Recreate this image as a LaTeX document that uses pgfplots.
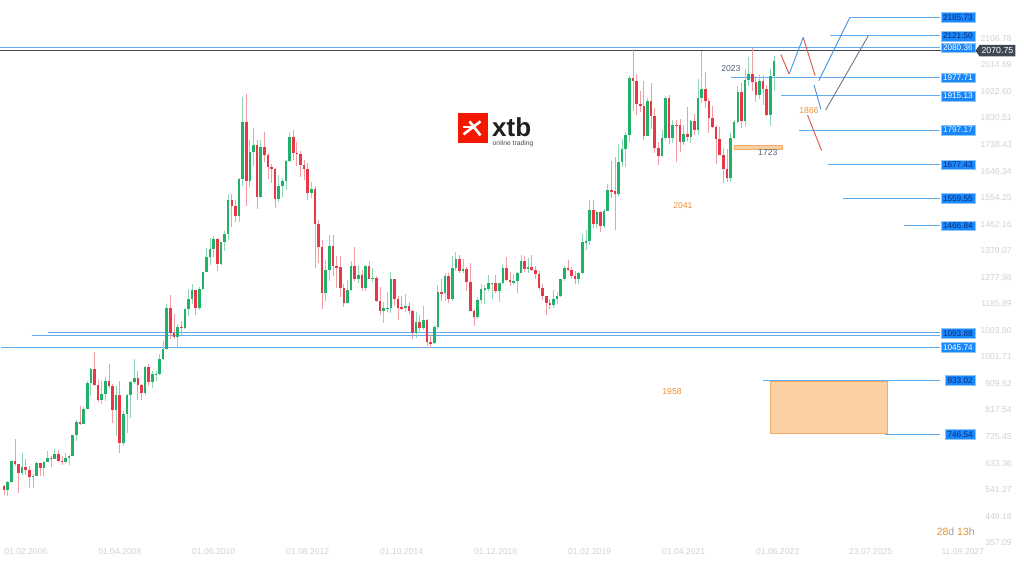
\documentclass[border=0pt]{standalone}
\usepackage{fontspec}
\setmainfont{Liberation Sans}
\usepackage{pgfplots}
\pgfplotsset{compat=1.18}
\usepackage{pgfplotstable}
\usetikzlibrary{shapes.symbols}

\definecolor{cup}{RGB}{34,177,106}
\definecolor{cdn}{RGB}{232,56,72}
\colorlet{wup}{cup!50!white}
\colorlet{wdn}{cdn!50!white}
\definecolor{hl}{RGB}{98,172,240}
\definecolor{boxb}{RGB}{24,136,252}
\definecolor{boxt}{RGB}{14,42,112}
\definecolor{tickc}{RGB}{206,209,213}
\definecolor{orng}{RGB}{240,142,52}
\definecolor{orfill}{RGB}{250,207,162}
\definecolor{cur}{RGB}{62,72,84}
\definecolor{slate}{RGB}{82,94,122}
\definecolor{fred}{RGB}{222,82,72}
\definecolor{fblue}{RGB}{70,145,222}
\definecolor{fgray}{RGB}{110,116,128}

\tikzset{boxl/.style={fill=boxb, draw=hl!70!white, line width=0.4pt, inner xsep=2pt, inner ysep=0pt,
    text height=6.2pt, text depth=0.3pt, minimum height=9.5pt, font=\fontsize{8.2}{9}\selectfont, anchor=east}}
\pgfplotsset{candle/.style={only marks, mark size=0pt, mark options={draw=none, fill=none}, forget plot}}

\pgfplotstableread{
m o h l c
0 569 573 538 556
1 556 584 535 583
2 583 654 580 654
3 654 730 636 643
4 643 645 543 614
5 614 683 605 633
6 633 663 605 623
7 623 638 560 599
8 599 608 560 604
9 604 650 603 646
10 646 648 604 632
11 632 654 603 651
12 651 690 650 665
13 665 670 633 662
14 662 695 660 680
15 680 691 651 656
16 656 673 640 650
17 650 683 647 665
18 665 675 640 672
19 672 745 670 743
20 743 795 723 789
21 789 845 779 783
22 783 842 781 834
23 834 932 833 924
24 924 976 880 972
25 972 1032 912 917
26 917 935 857 865
27 865 931 850 886
28 886 943 862 929
29 929 988 906 913
30 913 919 786 830
31 830 913 740 881
32 881 931 681 718
33 718 828 705 815
34 815 887 752 882
35 882 929 802 927
36 927 1006 920 942
37 942 966 865 917
38 917 920 866 888
39 888 984 883 979
40 979 990 913 927
41 927 965 905 954
42 954 964 931 955
43 955 1025 952 1007
44 1007 1070 1003 1040
45 1040 1195 1038 1181
46 1181 1227 1075 1096
47 1096 1161 1075 1081
48 1081 1128 1044 1118
49 1118 1138 1088 1113
50 1113 1180 1110 1179
51 1179 1249 1155 1213
52 1213 1265 1197 1244
53 1244 1245 1157 1181
54 1181 1254 1177 1248
55 1248 1307 1244 1307
56 1307 1388 1306 1359
57 1359 1424 1331 1386
58 1386 1432 1360 1421
59 1421 1424 1309 1333
60 1333 1411 1330 1409
61 1409 1447 1381 1439
62 1439 1576 1419 1556
63 1556 1577 1462 1536
64 1536 1556 1478 1500
65 1500 1632 1480 1628
66 1628 1912 1604 1826
67 1826 1921 1535 1620
68 1620 1764 1600 1722
69 1722 1803 1672 1746
70 1746 1763 1523 1565
71 1565 1764 1563 1738
72 1738 1791 1688 1710
73 1710 1717 1627 1669
74 1669 1679 1613 1664
75 1664 1667 1527 1560
76 1560 1642 1548 1605
77 1605 1632 1565 1622
78 1622 1692 1590 1689
79 1689 1790 1686 1773
80 1773 1797 1692 1719
81 1719 1755 1672 1714
82 1714 1724 1636 1676
83 1676 1695 1626 1664
84 1664 1684 1555 1578
85 1578 1616 1562 1595
86 1595 1605 1321 1472
87 1472 1488 1338 1393
88 1393 1417 1180 1234
89 1234 1348 1208 1313
90 1313 1433 1275 1396
91 1396 1434 1292 1327
92 1327 1361 1251 1323
93 1323 1361 1221 1253
94 1253 1267 1187 1201
95 1201 1280 1200 1244
96 1244 1345 1240 1326
97 1326 1392 1277 1284
98 1284 1331 1268 1296
99 1296 1315 1240 1250
100 1250 1332 1240 1327
101 1327 1345 1281 1282
102 1282 1322 1273 1287
103 1287 1293 1205 1208
104 1208 1255 1160 1171
105 1171 1205 1131 1182
106 1182 1239 1170 1183
107 1183 1307 1167 1283
108 1283 1284 1191 1212
109 1212 1224 1142 1183
110 1184 1224 1174 1182
111 1183 1232 1170 1190
112 1190 1205 1162 1172
113 1172 1175 1077 1095
114 1095 1170 1080 1134
115 1134 1157 1098 1115
116 1115 1191 1106 1142
117 1142 1143 1052 1065
118 1065 1088 1046 1061
119 1061 1124 1060 1118
120 1118 1263 1111 1238
121 1238 1283 1208 1233
122 1233 1304 1208 1293
123 1293 1303 1200 1214
124 1214 1362 1207 1322
125 1322 1375 1310 1351
126 1351 1367 1302 1309
127 1309 1352 1305 1316
128 1316 1324 1241 1273
129 1273 1337 1171 1173
130 1173 1180 1122 1151
131 1151 1220 1146 1210
132 1210 1264 1200 1249
133 1248 1261 1195 1250
134 1249 1295 1241 1268
135 1268 1270 1214 1269
136 1268 1296 1236 1242
137 1242 1270 1204 1268
138 1268 1330 1264 1322
139 1322 1357 1276 1280
140 1280 1306 1260 1271
141 1271 1299 1264 1275
142 1275 1307 1236 1303
143 1303 1366 1302 1345
144 1345 1362 1307 1318
145 1318 1356 1303 1325
146 1325 1366 1310 1315
147 1315 1326 1282 1299
148 1299 1309 1246 1253
149 1253 1266 1211 1224
150 1224 1224 1160 1201
151 1201 1214 1180 1192
152 1192 1243 1182 1215
153 1215 1237 1196 1223
154 1223 1284 1221 1282
155 1282 1326 1276 1321
156 1321 1347 1311 1313
157 1313 1324 1281 1292
158 1292 1310 1266 1284
159 1284 1306 1267 1305
160 1305 1439 1301 1409
161 1409 1453 1382 1413
162 1413 1555 1400 1520
163 1520 1557 1459 1472
164 1472 1518 1459 1513
165 1513 1516 1445 1464
166 1464 1525 1459 1517
167 1517 1611 1516 1589
168 1589 1689 1563 1585
169 1585 1704 1451 1577
170 1577 1748 1568 1687
171 1687 1765 1670 1730
172 1730 1789 1671 1781
173 1781 1984 1757 1975
174 1975 2075 1863 1967
175 1967 1992 1849 1886
176 1886 1933 1860 1879
177 1879 1966 1764 1777
178 1777 1906 1775 1898
179 1898 1959 1802 1847
180 1847 1872 1717 1734
181 1734 1755 1677 1708
182 1708 1798 1705 1769
183 1769 1913 1766 1907
184 1907 1917 1750 1770
185 1770 1833 1751 1814
186 1815 1832 1688 1813
187 1814 1834 1721 1757
188 1757 1814 1746 1783
189 1783 1877 1758 1774
190 1774 1831 1753 1829
191 1829 1853 1780 1796
192 1796 1974 1780 1909
193 1909 2070 1890 1937
194 1937 1998 1872 1897
195 1897 1909 1787 1837
196 1837 1880 1805 1807
197 1807 1814 1681 1766
198 1766 1808 1709 1711
199 1711 1735 1615 1661
200 1661 1730 1618 1633
201 1633 1786 1617 1768
202 1768 1833 1765 1824
203 1824 1949 1822 1928
204 1928 1959 1805 1827
205 1827 2009 1810 1969
206 1969 2049 1950 1990
207 1990 2079 1932 1963
208 1963 1983 1893 1919
209 1919 1987 1903 1965
210 1965 1987 1884 1940
211 1940 1953 1846 1849
212 1849 2009 1810 1983
213 1983 2052 1931 2036
}\gold

\begin{document}
\begin{tikzpicture}
\begin{axis}[
  width=1024pt, height=564pt, scale only axis,
  xmin=-1.107, xmax=282.16, ymin=298.93, ymax=2245.44,
  axis line style={draw=none}, major tick length=0pt, minor tick num=0,
  yticklabel pos=right,
  tick label style={font=\fontsize{8.6}{10}\selectfont, text=tickc, inner sep=0pt},
  yticklabel style={anchor=east, xshift=-12pt},
  xticklabel style={anchor=west, yshift=12pt},
  xtick={0,26,52,78,104,130,156,182,208,233.73,259.33},
  xticklabels={01.02.2006,01.04.2008,01.06.2010,01.08.2012,01.10.2014,01.12.2016,01.02.2019,01.04.2021,01.06.2023,23.07.2025,11.09.2027},
  ytick={2113.2,2021.57,1929.94,1838.31,1746.68,1655.05,1563.42,1471.79,1380.16,1288.53,1196.9,1105.27,1013.64,922.01,830.38,738.75,647.12,555.49,463.86,372.23},
  yticklabels={2106.78,2014.69,1922.60,1830.51,1738.43,1646.34,1554.25,1462.16,1370.07,1277.98,1185.89,1093.80,1001.71,909.62,817.54,725.45,633.36,541.27,449.18,357.09},
]

% horizontal levels
\addplot[hl, line width=1pt] coordinates {(234.0,2185.73) (258.9,2185.73)};
\addplot[hl, line width=1pt] coordinates {(228.5,2121.5) (258.9,2121.5)};
\addplot[hl, line width=1pt] coordinates {(-1.107,2080.8) (258.9,2080.8)};
\addplot[hl, line width=1pt] coordinates {(201.1,1978.3) (258.9,1978.3)};
\addplot[hl, line width=1pt] coordinates {(214.9,1914.5) (258.9,1914.5)};
\addplot[hl, line width=1pt] coordinates {(219.9,1797.0) (258.9,1797.0)};
\addplot[hl, line width=1pt] coordinates {(227.9,1678.0) (258.9,1678.0)};
\addplot[hl, line width=1pt] coordinates {(232.1,1561.0) (258.9,1561.0)};
\addplot[hl, line width=1pt] coordinates {(249.0,1466.6) (258.9,1466.6)};
\addplot[hl, line width=1pt] coordinates {(12.2,1096.8) (258.9,1096.8)};
\addplot[hl, line width=1pt] coordinates {(7.7,1088.6) (258.9,1088.6)};
\addplot[hl, line width=1pt] coordinates {(-0.8,1046.5) (258.9,1046.5)};
\addplot[hl, line width=1pt] coordinates {(210.0,933.0) (258.9,933.0)};
\addplot[hl, line width=1pt] coordinates {(243.7,746.5) (258.9,746.5)};
\addplot[cur, line width=0.8pt] coordinates {(-1.107,2070.75) (269.0,2070.75)};

% zones
\addplot[fill=orfill, draw=orng!75, line width=0.8pt] coordinates {(211.9,929) (244.3,929) (244.3,748) (211.9,748)} -- cycle;
\addplot[fill=orfill, draw=orng!75, line width=0.6pt] coordinates {(201.9,1745) (215.2,1745) (215.2,1730) (201.9,1730)} -- cycle;

% candles: wicks
\addplot[candle,
  restrict expr to domain={\thisrow{c}-\thisrow{o}}{0:100000},
  error bars/.cd, y dir=both, y explicit, error mark=none,
  error bar style={draw=wup, line width=0.8pt}]
  table[x=m, y expr={(\thisrow{h}+\thisrow{l})/2}, y error expr={(\thisrow{h}-\thisrow{l})/2}] {\gold};
\addplot[candle,
  restrict expr to domain={\thisrow{o}-\thisrow{c}}{0.001:100000},
  error bars/.cd, y dir=both, y explicit, error mark=none,
  error bar style={draw=wdn, line width=0.8pt}]
  table[x=m, y expr={(\thisrow{h}+\thisrow{l})/2}, y error expr={(\thisrow{h}-\thisrow{l})/2}] {\gold};
% candles: bodies
\addplot[candle,
  restrict expr to domain={\thisrow{c}-\thisrow{o}}{0:100000},
  error bars/.cd, y dir=both, y explicit, error mark=none,
  error bar style={draw=cup, line width=2.6pt}]
  table[x=m, y expr={(\thisrow{o}+\thisrow{c})/2}, y error expr={max(abs(\thisrow{c}-\thisrow{o})/2,1.7)}] {\gold};
\addplot[candle,
  restrict expr to domain={\thisrow{o}-\thisrow{c}}{0.001:100000},
  error bars/.cd, y dir=both, y explicit, error mark=none,
  error bar style={draw=cdn, line width=2.6pt}]
  table[x=m, y expr={(\thisrow{o}+\thisrow{c})/2}, y error expr={max(abs(\thisrow{c}-\thisrow{o})/2,1.7)}] {\gold};

% projection lines
\addplot[fred, line width=0.9pt] coordinates {(214.9,2058) (217.2,1990.4)};
\addplot[fblue, line width=0.9pt] coordinates {(217.2,1990.4) (221.1,2116.7)};
\addplot[fred, line width=0.9pt] coordinates {(221.1,2116.7) (224.4,1984.1)};
\addplot[fblue, line width=0.9pt] coordinates {(224.1,1952) (226.0,1868.2)};
\addplot[fblue, line width=0.9pt] coordinates {(225.4,1966.9) (234.0,2185.7)};
\addplot[fgray, line width=0.9pt] coordinates {(227.3,1865.8) (239.1,2122.2)};
\addplot[fred, line width=0.9pt] coordinates {(222.3,1848.5) (226.2,1725.3)};

% annotations
\node[text=slate, font=\fontsize{8.6}{10}\selectfont] at (axis cs:201.1,2009.7) {2023};
\node[text=slate, font=\fontsize{8.6}{10}\selectfont] at (axis cs:211.3,1718) {1723};
\node[text=orng, font=\fontsize{8.6}{10}\selectfont] at (axis cs:222.7,1865.8) {1866};
\node[text=orng, font=\fontsize{8.6}{10}\selectfont] at (axis cs:187.8,1537.9) {2041};
\node[text=orng, font=\fontsize{8.6}{10}\selectfont] at (axis cs:184.8,895.9) {1958};

% level boxes
\node[boxl, text=boxt] at (axis cs:268.6,2185.73) {2185.73};
\node[boxl, text=boxt] at (axis cs:268.6,2121.5) {2121.50};
\node[boxl, text=white] at (axis cs:268.6,2080.8) {2080.36};
\node[boxl, text=white] at (axis cs:268.6,1978.3) {1977.71};
\node[boxl, text=white] at (axis cs:268.6,1914.5) {1915.13};
\node[boxl, text=white!85!boxb] at (axis cs:268.6,1797.0) {1797.17};
\node[boxl, text=boxt] at (axis cs:268.6,1678.0) {1677.43};
\node[boxl, text=boxt] at (axis cs:268.6,1561.0) {1559.55};
\node[boxl, text=boxt] at (axis cs:268.6,1466.6) {1466.84};
\node[boxl, text=boxt] at (axis cs:268.6,1095.0) {1093.88};
\node[boxl, text=white] at (axis cs:268.6,1046.5) {1045.74};
\node[boxl, text=boxt] at (axis cs:268.6,933.0) {933.02};
\node[boxl, text=boxt] at (axis cs:268.6,746.5) {746.54};

% current price
\node[signal, signal to=west, signal pointer angle=110, fill=cur, text=white, inner xsep=2pt, inner ysep=0pt,
  text height=6.4pt, text depth=0.3pt, minimum height=11.5pt, anchor=west,
  font=\fontsize{8.8}{10}\selectfont] at (axis cs:268.7,2070.75) {2070.75};

% countdown
\node[anchor=east, inner sep=0pt, font=\fontsize{10.5}{12}\selectfont] at (axis cs:268.6,410.3)
  {{\color{orng}28}{\color{tickc!75!black}d} {\color{orng}13}{\color{tickc!75!black}h}};

% logo
\begin{scope}[shift={(axis cs:129.6,1802.6)}]
  \fill[red!80!orange!95!black] (-15pt,-15pt) rectangle (15pt,15pt);
  \draw[white, line width=2.6pt] (-9pt,-6pt) -- (8pt,7pt);
  \draw[white, line width=2.6pt] (-3pt,7pt) -- (8pt,-7pt);
  \draw[white, line width=2pt] (-10pt,1pt) -- (0pt,1pt);
  \node[anchor=base west, inner sep=0pt, font=\fontsize{26}{26}\selectfont\bfseries, text=black!88] at (19.5pt,-7.7pt) {xtb};
  \node[anchor=west, inner sep=0pt, font=\fontsize{6.8}{8}\selectfont, text=black!70] at (20pt,-15.2pt) {online trading};
\end{scope}

\end{axis}
\end{tikzpicture}
\end{document}
